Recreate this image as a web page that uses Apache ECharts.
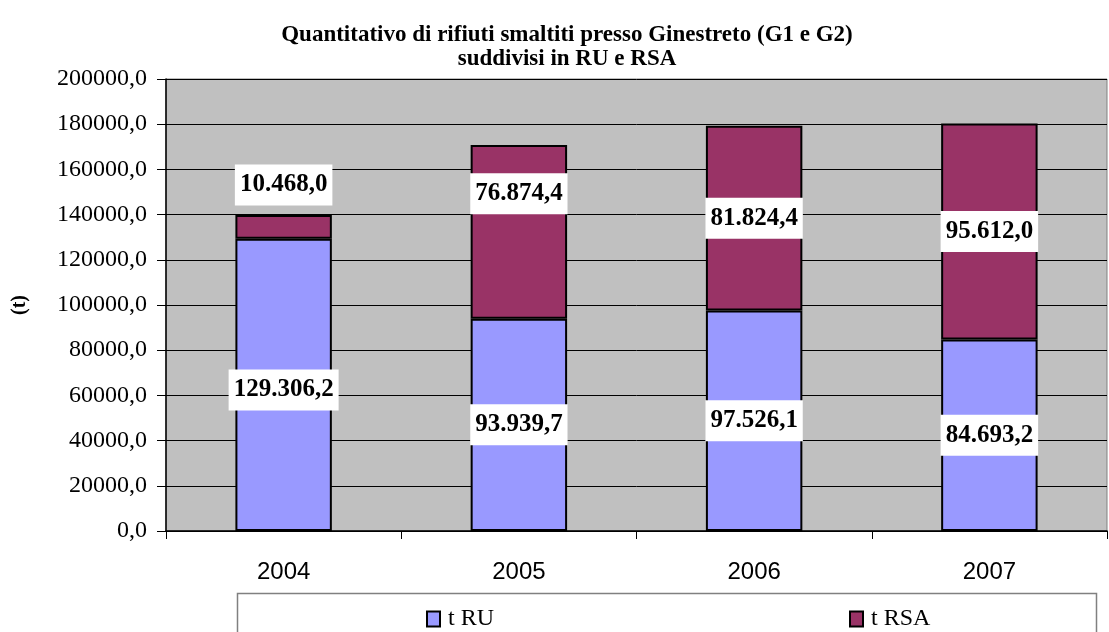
<!DOCTYPE html>
<html>
<head>
<meta charset="utf-8">
<script src="https://cdn.jsdelivr.net/npm/echarts@6/dist/echarts.min.js"></script>
<style>
  html, body { margin: 0; padding: 0; background: #ffffff; }
  #chart { width: 1109px; height: 632px; }
</style>
</head>
<body>
<div id="chart"></div>
<script>
// Anni e quantitativi smaltiti (tonnellate)
const years = ['2004', '2005', '2006', '2007'];
const ruValues = [129306.2, 93939.7, 97526.1, 84693.2];
const rsaValues = [10468.0, 76874.4, 81824.4, 95612.0];
const seriesNames = ['t RU', 't RSA'];
// Spostamento verticale delle etichette spostate a mano
const rsaLabelShift = [-42, -38, 0, 0];
const ruLabelShift = [5, 0, 0, 0];

const serif = '"Liberation Serif", "Times New Roman", serif';
const sans = '"Liberation Sans", Arial, sans-serif';

// Formato italiano: punto per le migliaia, virgola per i decimali
function itNumber(v, thousands) {
  const parts = Math.abs(v).toFixed(1).split('.');
  let intPart = parts[0];
  if (thousands) intPart = intPart.replace(/\B(?=(\d{3})+(?!\d))/g, '.');
  return (v < 0 ? '-' : '') + intPart + ',' + parts[1];
}

const labelStyle = {
  show: true,
  position: 'inside',
  formatter: p => itNumber(p.value, true),
  color: '#000',
  fontFamily: serif,
  fontWeight: 'bold',
  fontSize: 25,
  backgroundColor: '#ffffff',
  padding: [9, 5, 7, 5]
};

function withShift(values, shifts) {
  return values.map((v, i) => ({ value: v, label: { offset: [0, shifts[i]] } }));
}

const legendText = { fontFamily: serif, fontSize: 24, color: '#000', padding: [1, 0, 0, 3] };

const chart = echarts.init(document.getElementById('chart'), null, { renderer: 'canvas' });

chart.setOption({
  animation: false,
  backgroundColor: '#ffffff',
  title: {
    text: 'Quantitativo di rifiuti smaltiti presso Ginestreto (G1 e G2)\nsuddivisi in RU e RSA',
    left: 562,
    top: 18,
    textAlign: 'center',
    textStyle: {
      fontFamily: serif,
      fontWeight: 'bold',
      fontSize: 23,
      lineHeight: 24,
      color: '#000'
    }
  },
  grid: {
    left: 166,
    top: 79,
    right: 2,
    bottom: 101,
    show: true,
    backgroundColor: '#C0C0C0',
    borderColor: '#808080',
    borderWidth: 1
  },
  legend: [
    {
      data: [seriesNames[0]],
      left: 421,
      top: 602,
      itemWidth: 13,
      itemHeight: 15,
      icon: 'rect',
      itemStyle: { borderColor: '#000', borderWidth: 2 },
      textStyle: legendText
    },
    {
      data: [seriesNames[1]],
      left: 844,
      top: 602,
      itemWidth: 13,
      itemHeight: 15,
      icon: 'rect',
      itemStyle: { borderColor: '#000', borderWidth: 2 },
      textStyle: legendText
    }
  ],
  graphic: [
    {
      type: 'rect',
      z: -1,
      shape: { x: 237.5, y: 593.5, width: 859, height: 50 },
      style: { fill: '#ffffff', stroke: '#808080', lineWidth: 1.5 }
    }
  ],
  xAxis: {
    type: 'category',
    data: years,
    axisLine: { show: true, lineStyle: { color: '#000', width: 1.5 } },
    axisTick: { show: true, alignWithLabel: false, length: 8, inside: false, lineStyle: { color: '#000' } },
    axisLabel: { fontFamily: sans, fontSize: 24, color: '#000', margin: 29 },
    splitLine: { show: false }
  },
  yAxis: {
    type: 'value',
    min: 0,
    max: 200000,
    interval: 20000,
    name: '(t)',
    nameLocation: 'middle',
    nameGap: 136,
    nameRotate: 90,
    nameTextStyle: { fontFamily: serif, fontWeight: 'bold', fontSize: 20, color: '#000' },
    axisLine: { show: true, lineStyle: { color: '#000', width: 1.5 } },
    axisTick: { show: true, length: 9, lineStyle: { color: '#000' } },
    axisLabel: {
      fontFamily: serif,
      fontSize: 24,
      color: '#000',
      margin: 19,
      formatter: v => itNumber(v, false)
    },
    splitLine: { show: true, lineStyle: { color: '#000', width: 1 } }
  },
  series: [
    {
      name: seriesNames[0],
      type: 'bar',
      stack: 'tot',
      barWidth: '41%',
      data: withShift(ruValues, ruLabelShift),
      itemStyle: { color: '#9999FF', borderColor: '#000', borderWidth: 2 },
      label: labelStyle
    },
    {
      name: seriesNames[1],
      type: 'bar',
      stack: 'tot',
      barWidth: '41%',
      data: withShift(rsaValues, rsaLabelShift),
      itemStyle: { color: '#993366', borderColor: '#000', borderWidth: 2 },
      label: labelStyle
    }
  ]
});
</script>
</body>
</html>
